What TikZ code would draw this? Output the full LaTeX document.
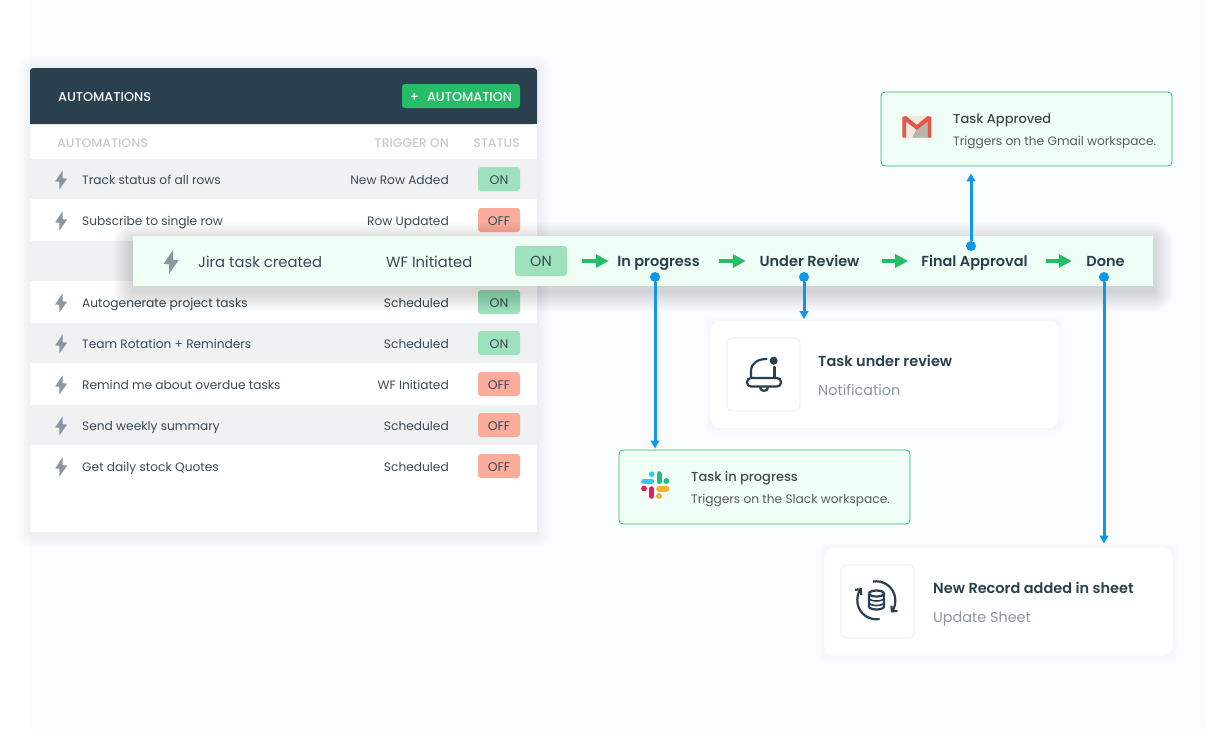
\documentclass[tikz,border=0pt]{standalone}
\usepackage{fontspec}
\setmainfont{Poppins}
\newfontfamily\fsemi{Poppins SemiBold}
\newfontfamily\fmedium{Poppins Medium}
\usetikzlibrary{arrows.meta,calc}
\definecolor{pagebg}{HTML}{FBFCFF}
\definecolor{headdark}{HTML}{2A404F}
\definecolor{rowgray}{HTML}{F0F1F3}
\definecolor{inktext}{HTML}{3A4A56}
\definecolor{mutetext}{HTML}{8D98A2}
\definecolor{headtext}{HTML}{C8CBCE}
\definecolor{boltgray}{HTML}{8A96A0}
\definecolor{btngreen}{HTML}{27BC68}
\definecolor{onfill}{HTML}{9DE2BC}
\definecolor{offfill}{HTML}{FBAC9B}
\definecolor{mintfill}{HTML}{F0FFF6}
\definecolor{linkblue}{HTML}{0F97E8}
\definecolor{gmailred}{HTML}{E2574C}
\definecolor{gmailcream}{HTML}{EDE7DC}
\definecolor{gmailgray}{HTML}{B8B6AC}
\definecolor{slackblue}{HTML}{36C5F0}
\definecolor{slackgreen}{HTML}{2EB67D}
\definecolor{slackyellow}{HTML}{ECB22E}
\definecolor{slackpink}{HTML}{E01E5A}
\newcommand{\pxfont}[1]{\fontsize{#1}{#1}\selectfont}
\newcommand{\softshadow}[7]{%
  \foreach \g in {1,...,#5}
    \fill[black,opacity=#6,rounded corners=\g pt] (#1-\g,#2-\g+#7) rectangle (#3+\g,#4+\g+#7);}
\begin{document}
\begin{tikzpicture}[x=1pt,y=-1pt]
\tikzset{txt/.style = {inner sep=0pt,text height=11pt,text depth=1pt,text=inktext}}
\tikzset{rowname/.style = {txt,anchor=west,font=\pxfont{12.2}}}
\tikzset{rowtrig/.style = {txt,anchor=east,font=\pxfont{12.2}}}
\tikzset{headcell/.style = {txt,text=headtext,font=\fmedium\pxfont{12.5}}}
\tikzset{badgeON/.style = {txt,minimum width=42pt,minimum height=24pt,rounded corners=3pt,fill=onfill,font=\pxfont{12.5}}}
\tikzset{badgeOFF/.style = {badgeON,fill=offfill}}
\tikzset{stepname/.style = {txt,text=headdark,align=center,font=\fsemi\pxfont{14.5}}}
\tikzset{stepflow/.style = {line width=4pt,draw=btngreen,-{Triangle[length=13pt,width=13pt]}}}
\tikzset{link/.style = {line width=3pt,draw=linkblue,-{Triangle[length=8pt,width=8.5pt]}}}
\tikzset{dot/.style = {circle,inner sep=0pt,minimum size=10pt,fill=linkblue}}
\tikzset{mintcard/.style = {draw=btngreen,line width=.8pt,fill=mintfill,rounded corners=4pt,inner sep=0pt,minimum width=291pt,minimum height=74pt}}
\tikzset{whitecard/.style = {fill=white,draw=black!3,line width=.8pt,rounded corners=10pt,inner sep=0pt,minimum width=349pt,minimum height=108pt}}
\tikzset{iconbox/.style = {fill=white,draw=black!8,line width=.8pt,rounded corners=5pt,inner sep=0pt,minimum size=73pt}}
\tikzset{cardtitle/.style = {txt,anchor=west,text=headdark,font=\fsemi\pxfont{14.5}}}
\tikzset{cardsub/.style = {txt,anchor=west,text=mutetext,font=\pxfont{14.4}}}
\tikzset{minttitle/.style = {txt,anchor=west,text=black!72,font=\fmedium\pxfont{13}}}
\tikzset{mintsub/.style = {txt,anchor=west,text=black!65,font=\pxfont{12.2}}}
\tikzset{bolt/.pic = {\fill[boltgray] (2,-12) -- (-7.3,1.7) -- (-2,2.3) -- (-2,11.7) -- (7.7,-1.7) -- (2,-2.3) -- cycle;}}
\useasboundingbox (0,0) rectangle (1209,729);
\fill[pagebg] (30,0) rectangle (1207,729);

% table panel
\softshadow{30}{68}{537}{532}{14}{.003}{2}
\fill[white] (30,68) rectangle (537,532);
\fill[headdark,rounded corners=3pt] (30,124) |- (537,68) -- (537,124) [sharp corners] -- cycle;
\fill[headdark] (30,110) rectangle (537,124);
\foreach \bandy in {159,241,323,405}
  \fill[rowgray] (30,\bandy) rectangle (537,\bandy+40);
\node[txt,anchor=west,text=white,font=\fmedium\pxfont{12.8}] (paneltitle) at (58,96) {AUTOMATIONS};
\node[txt,minimum width=118pt,minimum height=24pt,rounded corners=3pt,fill=btngreen,text=white,font=\fmedium\pxfont{12.8}] (addbtn) at (461,96) {+\hspace{8pt}AUTOMATION};
\node[headcell,anchor=west] (headname) at (57,142) {AUTOMATIONS};
\node[headcell,anchor=east] (headtrig) at (449,142) {TRIGGER ON};
\node[headcell,anchor=east] (headstat) at (520,142) {STATUS};

% rows
\foreach \rowid/\rowy/\rowtext/\trigtext/\rowstate in {
  track/179/Track status of all rows/New Row Added/ON,
  subs/220/Subscribe to single row/Row Updated/OFF,
  autogen/302/Autogenerate project tasks/Scheduled/ON,
  team/343/Team Rotation + Reminders/Scheduled/ON,
  remind/384/Remind me about overdue tasks/WF Initiated/OFF,
  weekly/425/Send weekly summary/Scheduled/OFF,
  daily/466/Get daily stock Quotes/Scheduled/OFF}{
  \pic[scale=.8] at (61,\rowy+1) {bolt};
  \node[rowname] (name\rowid) at (82,\rowy) {\rowtext};
  \node[rowtrig] (trig\rowid) at (449,\rowy) {\trigtext};
  \node[badge\rowstate] (stat\rowid) at (499,\rowy) {\rowstate};
}

% jira band
\softshadow{133}{236}{1153}{286}{20}{.006}{6}
\fill[mintfill] (133,236) rectangle (1153,286);
\pic at (171,262) {bolt};
\node[txt,anchor=west,font=\pxfont{14.8}] (jira) at (198,262) {Jira task created};
\node[txt,anchor=west,font=\pxfont{14.8}] (jiratrig) at (386,262) {WF Initiated};
\node[badgeON,minimum width=52pt,minimum height=30pt,font=\pxfont{14.5}] (jirastat) at (541,261) {ON};
\node[stepname,minimum width=83pt] (progress) at (658.5,261) {In progress};
\node[stepname,minimum width=103pt] (review) at (809.5,261) {Under Review};
\node[stepname,minimum width=105pt] (approval) at (974.5,261) {Final Approval};
\node[stepname,minimum width=39pt] (done) at (1105.5,261) {Done};
\draw[stepflow,shorten <=15pt,shorten >=8pt] (jirastat) -- (progress);
\draw[stepflow,shorten <=19pt,shorten >=12pt] (progress) -- (review);
\draw[stepflow,shorten <=21pt,shorten >=13pt] (review) -- (approval);
\draw[stepflow,shorten <=18pt,shorten >=14pt] (approval) -- (done);

% cards
\node[mintcard] (cardgmail) at (1026.5,129) {};
\node[minttitle] (gmailtitle) at (953,118) {Task Approved};
\node[mintsub] (gmailsub) at (953,140) {Triggers on the Gmail workspace.};
\fill[gmailcream,rounded corners=1pt] (902.3,116) rectangle (931.3,137.7);
\fill[gmailgray] (916.8,129) -- (927.6,121) -- (927.6,137.7) -- (912,137.7) -- cycle;
\fill[gmailred] (902.3,117) -- (906,116) -- (916.8,125) -- (927.6,116) -- (931.3,117) -- (931.3,137.7) -- (927.6,137.7) -- (927.6,121.5) -- (916.8,130) -- (906,121.5) -- (906,137.7) -- (902.3,137.7) -- cycle;

\node[mintcard] (cardslack) at (764.5,487) {};
\node[minttitle] (slacktitle) at (691,476) {Task in progress};
\node[mintsub] (slacksub) at (691,498) {Triggers on the Slack workspace.};
\begin{scope}[line width=5.6pt,line cap=round]
\draw[slackblue] (644,481.3) -- (651.5,481.3);
\draw[slackgreen] (659.3,474) -- (659.3,481.3);
\draw[slackyellow] (659,488.8) -- (666.5,488.8);
\draw[slackpink] (651.5,489) -- (651.5,496);
\end{scope}
\fill[slackblue] (651.7,474.2) circle (2.9);
\fill[slackgreen] (666.3,481) circle (2.9);
\fill[slackyellow] (659,496) circle (2.9);
\fill[slackpink] (644,488.5) circle (2.9);

\softshadow{710}{321}{1059}{428}{5}{.003}{1}
\node[whitecard] (cardreview) at (884.5,374.5) {};
\node[iconbox] (bellbox) at (763.5,374.5) {};
\node[cardtitle] (reviewtitle) at (818,361) {Task under review};
\node[cardsub] (reviewsub) at (818,390) {Notification};
\begin{scope}[draw=headdark,line width=2.2pt,line cap=round]
\draw (751,377) -- (751,371) .. controls (751,363) and (758,359) .. (766.5,359);
\draw (774.5,367) -- (774.5,378);
\draw[rounded corners=4pt] (747,378) rectangle (781,386.5);
\draw (760,387) arc (180:0:4);
\end{scope}
\fill[headdark] (773.7,360.7) circle (4);

\softshadow{824}{547}{1173}{656}{5}{.003}{1}
\node[whitecard,minimum height=109pt] (cardrecord) at (998.5,601.5) {};
\node[iconbox] (syncbox) at (877.5,601.5) {};
\node[cardtitle] (recordtitle) at (933,588) {New Record added in sheet};
\node[cardsub] (recordsub) at (933,617) {Update Sheet};
\begin{scope}[draw=headdark,line width=2.2pt]
\draw[-{Straight Barb[length=4pt,width=8pt]}] (876.3,600.3) ++(-100:19) arc (-100:40:19);
\draw[-{Straight Barb[length=4pt,width=8pt]}] (876.3,600.3) ++(80:19) arc (80:220:19);
\draw (869,593.5) arc (180:540:7.5 and 3);
\draw (869,593.5) -- (869,606.5) arc (180:0:7.5 and 3) -- (884,593.5);
\draw[line width=1.6pt] (869,598) arc (180:0:7.5 and 3);
\draw[line width=1.6pt] (869,602.5) arc (180:0:7.5 and 3);
\end{scope}

% links
\node[dot] (dotprogress) at (655,277) {};
\node[dot] (dotreview) at (804,277) {};
\node[dot] (dotapproval) at (971,246) {};
\node[dot] (dotdone) at (1104,277) {};
\draw[link,shorten >=1pt] (dotprogress) -- (cardslack.north -| dotprogress);
\draw[link,shorten >=1pt] (dotreview) -- (cardreview.north -| dotreview);
\draw[link,shorten >=7pt] (dotapproval) -- (cardgmail.south -| dotapproval);
\draw[link,shorten >=3pt] (dotdone) -- (cardrecord.north -| dotdone);
\end{tikzpicture}
\end{document}
